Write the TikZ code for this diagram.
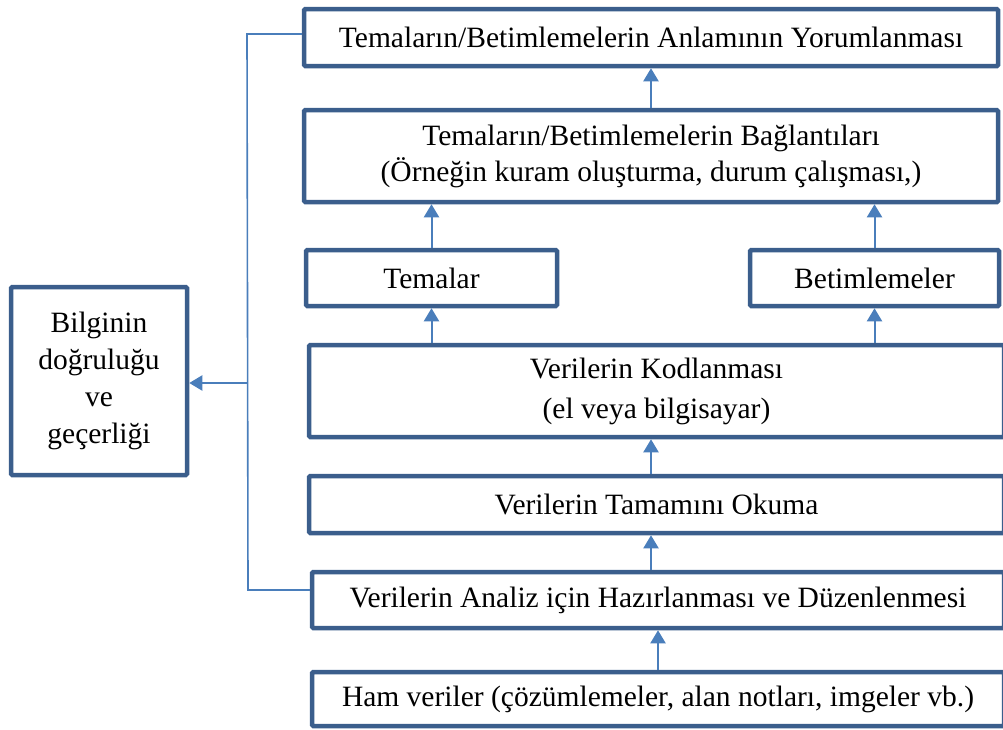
\documentclass[tikz,border=0pt]{standalone}
\usepackage{fontspec}
\setmainfont{Liberation Serif}
\usetikzlibrary{arrows.meta}
\definecolor{boxline}{RGB}{59,94,140}
\definecolor{linkblue}{RGB}{74,126,187}
\tikzset{
  stage/.style={draw=boxline, line width=4.5pt, fill=white, rounded corners=1.2pt,
    inner sep=0pt, align=center, font=\fontsize{29.5}{36}\selectfont},
  flow/.style={draw=linkblue, line width=2pt, -{Triangle[width=15pt,length=13pt]}},
  link/.style={draw=linkblue, line width=1.6pt},
}
\begin{document}
\begin{tikzpicture}[x=1pt,y=-1pt]
\useasboundingbox (0,0) rectangle (1003,729);
\clip (0,0) rectangle (1003,729);

% main column of stages, bottom to top
\node[stage, minimum width=692pt, minimum height=54pt] (ham) at (658,699) {Ham veriler (çözümlemeler, alan notları, imgeler vb.)};
\node[stage, minimum width=692pt, minimum height=56pt] (ana) at (658,600) {Verilerin Analiz için Hazırlanması ve Düzenlenmesi};
\node[stage, minimum width=695pt, minimum height=57pt] (tam) at (656.5,504.5) {Verilerin Tamamını Okuma};
\node[stage, minimum width=695pt, minimum height=92pt, font=\fontsize{29.5}{40}\selectfont] (kod) at (656.5,391) {Verilerin Kodlanması\\(el veya bilgisayar)};
\node[stage, minimum width=251pt, minimum height=56pt] (tem) at (431.5,278) {Temalar};
\node[stage, minimum width=249pt, minimum height=56pt] (bet) at (874.5,278) {Betimlemeler};
\node[stage, minimum width=694pt, minimum height=92pt] (bag) at (651,156) {Temaların/Betimlemelerin Bağlantıları\\(Örneğin kuram oluşturma, durum çalışması,)};
\node[stage, minimum width=694pt, minimum height=57pt] (top) at (651,37.5) {Temaların/Betimlemelerin Anlamının Yorumlanması};

% side box
\node[stage, minimum width=176pt, minimum height=188pt, font=\fontsize{29.5}{37}\selectfont] (bil) at (99,381) {Bilginin\\doğruluğu\\ve\\geçerliği};

% upward flow
\draw[flow] (ham.north) -- (ana.south);
\draw[flow] (ana.north -| bag.south) -- (tam.south -| bag.south);
\draw[flow] (tam.north -| bag.south) -- (kod.south -| bag.south);
\draw[flow] (kod.north -| tem.south) -- (tem.south);
\draw[flow] (kod.north -| bet.south) -- (bet.south);
\draw[flow] (tem.north) -- (tem.north |- bag.south);
\draw[flow] (bet.north) -- (bet.north |- bag.south);
\draw[flow] (bag.north) -- (top.south);

% validity bracket
\coordinate (ft) at (247,34);
\coordinate (fb) at (248,590);
\coordinate (fm) at (248,383);
\draw[link] (ft -| top.west) -- (ft) -- (fb) -- (fb -| ana.west);
\draw[flow] (fm) -- (fm -| bil.east);
\end{tikzpicture}
\end{document}
